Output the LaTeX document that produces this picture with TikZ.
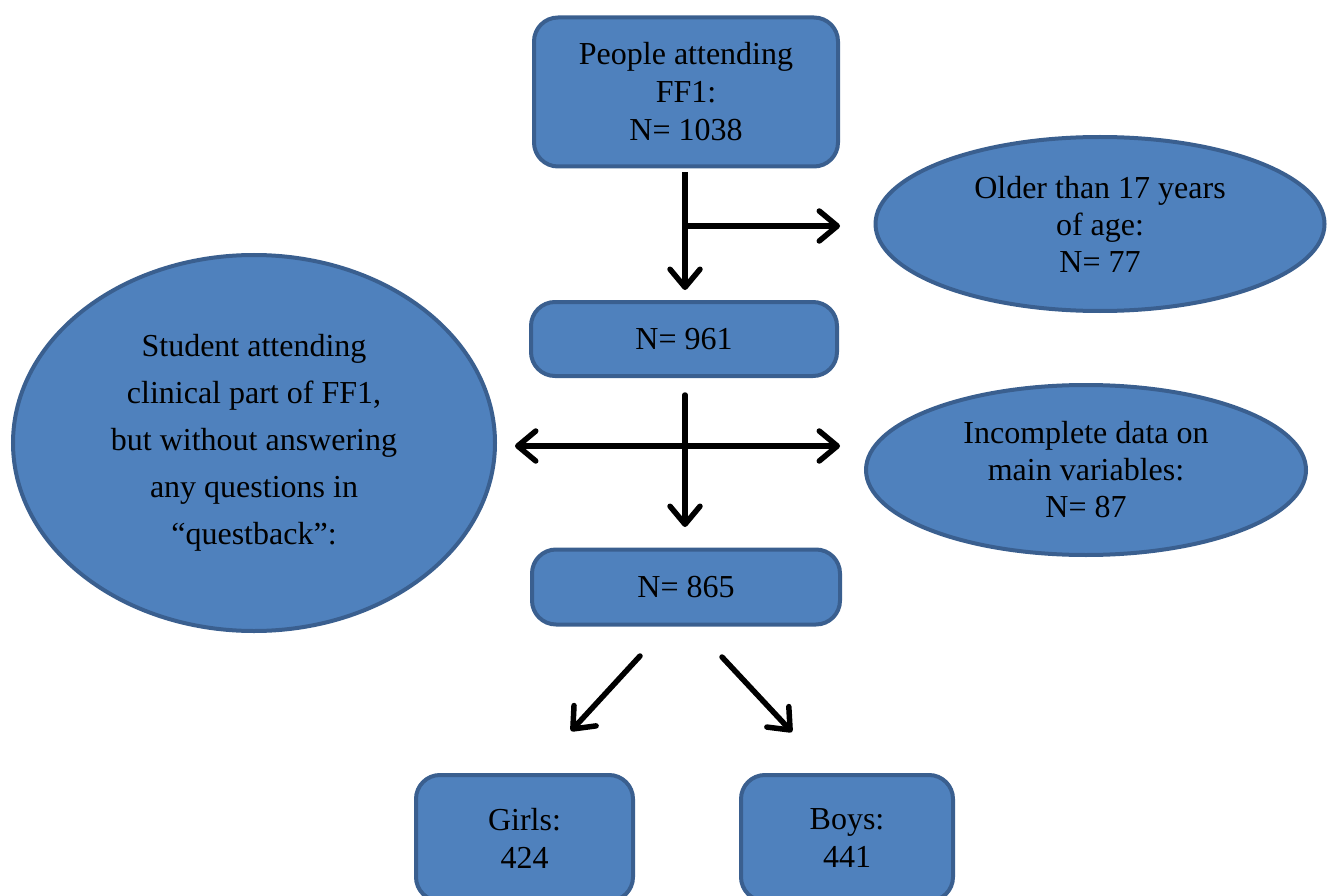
\documentclass[tikz,border=0pt]{standalone}
\usepackage{fontspec}
\setmainfont{Liberation Serif}
\usetikzlibrary{arrows.meta,shapes.geometric}
\definecolor{boxfill}{HTML}{4F81BD}
\definecolor{boxline}{HTML}{3A5F8F}
\begin{document}
\begin{tikzpicture}[x=1pt,y=-1pt,
  box/.style={draw=boxline, fill=boxfill, line width=4pt, rounded corners=24pt,
    align=center, inner sep=0pt, font=\fontsize{32}{38}\selectfont},
  oval/.style={ellipse, draw=boxline, fill=boxfill, line width=4pt,
    align=center, inner sep=0pt, font=\fontsize{32}{37}\selectfont},
  arr/.style={line width=5.5pt, line cap=round,
    -{Straight Barb[length=18pt,width=30pt,round]}},
  dblarr/.style={line width=5.5pt, line cap=round,
    {Straight Barb[length=18pt,width=30pt,round]}-{Straight Barb[length=18pt,width=30pt,round]}}
]
\useasboundingbox (0,0) rectangle (1328,896);
\clip (0,0) rectangle (1328,896);

\node[box, minimum width=304pt, minimum height=149pt] (top) at (686,92)
  {People attending\\FF1:\\N= 1038};
\node[oval, minimum width=449pt, minimum height=174pt] (old) at (1100,224)
  {Older than 17 years\\of age:\\N= 77};
\node[box, minimum width=306pt, minimum height=74pt] (n961) at (684,339) {N= 961};
\node[oval, minimum width=482pt, minimum height=376pt,
  font=\fontsize{32}{47}\selectfont] (stud) at (254,443)
  {Student attending\\clinical part of FF1,\\but without answering\\any questions in\\``questback'':};
\node[oval, minimum width=440pt, minimum height=170pt] (inc) at (1086,470)
  {Incomplete data on\\main variables:\\N= 87};
\node[box, minimum width=308pt, minimum height=75pt] (n865) at (686,587) {N= 865};
\node[box, minimum width=217pt, minimum height=126pt] (girls) at (524.5,838) {Girls:\\424};
\node[box, minimum width=212pt, minimum height=126pt] (boys) at (847,838) {Boys:\\441};

% arrows
\coordinate (b1) at (685,226);
\coordinate (t1) at (840,226);
\draw[line width=5.5pt] ([yshift=-4pt]top.south -| b1) -- (b1);
\draw[arr] (b1) -- (685,290);
\draw[arr] (b1) -- (t1);

\coordinate (m1) at (685,395);
\coordinate (m2) at (685,527);
\coordinate (hl) at (515,446);
\coordinate (hr) at (840,446);
\draw[arr] (m1) -- (m2);
\draw[dblarr] (hl) -- (hr);

\coordinate (dl1) at (640,656);
\coordinate (dl2) at (571,731);
\coordinate (dr1) at (722,657);
\coordinate (dr2) at (792,732);
\draw[arr] (dl1) -- (dl2);
\draw[arr] (dr1) -- (dr2);
\end{tikzpicture}
\end{document}
